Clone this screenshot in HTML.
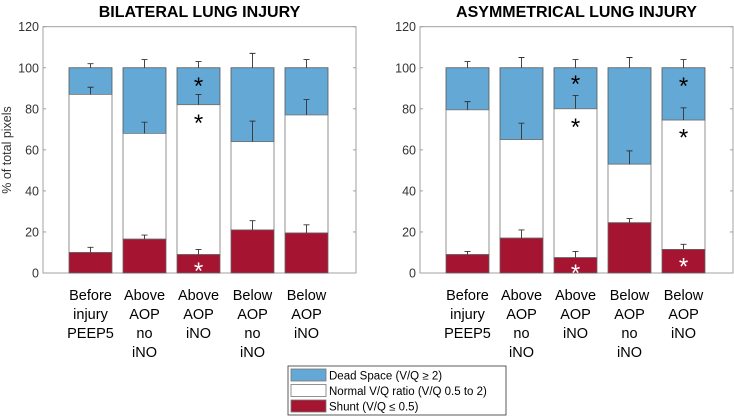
<!DOCTYPE html>
<html><head><meta charset="utf-8"><style>
html,body{margin:0;padding:0;background:#fff;width:734px;height:416px;overflow:hidden}
svg text{font-family:"Liberation Sans",sans-serif}
</style></head><body>
<svg id="chart" width="734" height="416" viewBox="0 0 734 416" xmlns="http://www.w3.org/2000/svg"></svg>
<script>
const categories = [["Before","injury","PEEP5"],["Above","AOP","no","iNO"],["Above","AOP","iNO"],["Below","AOP","no","iNO"],["Below","AOP","iNO"]];
const yTicks = [0,20,40,60,80,100,120];
const bilShunt = [10,16.5,9,21,19.5];
const bilNormalTop = [87,68,82,64,77];
const bilShuntErr = [12.5,18.5,11.5,25.5,23.5];
const bilNormalErr = [90.5,73.5,87,74,84.5];
const bilDeadErr = [102,104,103,107,104];
const bilStars = [[2,93,"black"],[2,75,"black"],[2,3,"white"]];
const asyShunt = [9,17,7.5,24.5,11.5];
const asyNormalTop = [79.5,65,80,53,74.5];
const asyShuntErr = [10.5,21,10.5,26.5,14];
const asyNormalErr = [83.5,73,86.5,59.5,80.5];
const asyDeadErr = [103,105,104,105,104];
const asyStars = [[2,94,"black"],[2,73,"black"],[2,2,"white"],[4,93,"black"],[4,68,"black"],[4,5,"white"]];

const NS="http://www.w3.org/2000/svg";
const svg=document.getElementById('chart');
function el(tag,attrs,parent){const e=document.createElementNS(NS,tag);for(const k in attrs)e.setAttribute(k,attrs[k]);(parent||svg).appendChild(e);return e;}
const Y0=273, Y1=26.7;
function yScale(v){return Y0-(v/120)*(Y0-Y1);}

function panel(name,title,left,right,shunt,normTop,sErr,nErr,dErr,stars,showYLabel){
  const g=el('g',{});
  
  
  function xScale(i){return left+47.5+54*i;}
  const t=el('text',{x:(left+right)/2,y:17,'text-anchor':'middle','font-size':'16','font-weight':'bold',fill:'#000'},g);
  t.textContent=title;
  
  
  const box=el('rect',{x:left,y:Y1,width:right-left,height:Y0-Y1,fill:'none',stroke:'#a0a0a0','stroke-width':1},g);
  
  
  yTicks.forEach(v=>{
    const y=yScale(v);
    el('line',{x1:left,x2:left+3,y1:y,y2:y,stroke:'#a0a0a0'},g);
    el('line',{x1:right-3,x2:right,y1:y,y2:y,stroke:'#a0a0a0'},g);
    const tl=el('text',{x:left-4,y:y+4.5,'text-anchor':'end','font-size':'12.5',fill:'#333'},g);
    tl.textContent=v;
    
    
  });
  if(showYLabel){
    const yl=el('text',{x:0,y:0,transform:'translate(11,150) rotate(-90)','text-anchor':'middle','font-size':'12.5',fill:'#333'},g);
    yl.textContent='% of total pixels';
    
    
  }
  const bw=43;
  categories.forEach((c,i)=>{
    const cx=xScale(i), x=cx-bw/2;
    const d=el('rect',{x:x,y:yScale(100),width:bw,height:yScale(normTop[i])-yScale(100),fill:'#64a8d6',stroke:'#555','stroke-width':0.8},g);
    
    
    const n=el('rect',{x:x,y:yScale(normTop[i]),width:bw,height:yScale(shunt[i])-yScale(normTop[i]),fill:'#fff',stroke:'#777','stroke-width':0.8},g);
    
    
    const s=el('rect',{x:x,y:yScale(shunt[i]),width:bw,height:Y0-yScale(shunt[i]),fill:'#a51431',stroke:'#666','stroke-width':0.8},g);
    
    
    [[shunt[i],sErr[i]],[normTop[i],nErr[i]],[100,dErr[i]]].forEach(p=>{
      const eb=el('path',{d:`M${cx},${yScale(p[0])}V${yScale(p[1])}M${cx-3},${yScale(p[1])}H${cx+3}`,stroke:'#333','stroke-width':0.9,fill:'none'},g);
      
      
    });
    c.forEach((line,j)=>{
      const lt=el('text',{x:cx,y:300+19*j,'text-anchor':'middle','font-size':'14.5',fill:'#000'},g);
      lt.textContent=line;
      
      
    });
  });
  stars.forEach(s=>{
    const st=el('text',{x:xScale(s[0]),y:yScale(s[1])+12,'text-anchor':'middle','font-size':'24',fill:s[2]},g);
    st.textContent='*';
    
    
  });
}
panel('bilateral-panel','BILATERAL LUNG INJURY',43,356,bilShunt,bilNormalTop,bilShuntErr,bilNormalErr,bilDeadErr,bilStars,true);
panel('asymmetrical-panel','ASYMMETRICAL LUNG INJURY',420,733,asyShunt,asyNormalTop,asyShuntErr,asyNormalErr,asyDeadErr,asyStars,false);

const lg=el('g',{});


el('rect',{x:288,y:366,width:218,height:49,fill:'#fff',stroke:'#333','stroke-width':0.8},lg);
[['#64a8d6','Dead Space (V/Q \u2265  2)'],['#fff','Normal V/Q ratio (V/Q 0.5 to 2)'],['#a51431','Shunt (V/Q \u2264  0.5)']].forEach((e,i)=>{
  const row=el('g',{},lg);
  
  
  el('rect',{x:291,y:369+15.5*i,width:35,height:12,fill:e[0],stroke:'#777','stroke-width':0.8},row);
  const tx=el('text',{x:329,y:379.5+15.5*i,'font-size':'11.5',fill:'#000'},row);
  tx.textContent=e[1];
});
</script>
</body></html>
